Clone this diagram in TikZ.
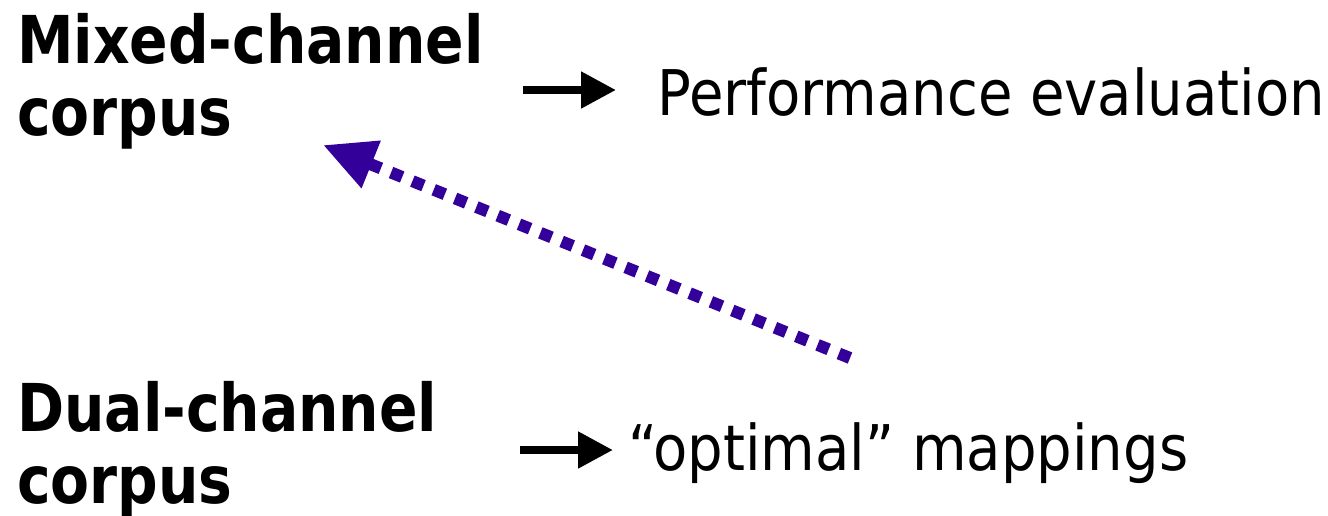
\documentclass[tikz,border=0pt]{standalone}
\usepackage{fontspec}
\setmainfont{DejaVu Sans}[FakeStretch=0.89]
\newfontfamily\boldface{DejaVu Sans Bold}[FakeStretch=0.86]
\usetikzlibrary{arrows.meta,calc}
\definecolor{indigo}{RGB}{51,0,153}
\tikzset{
  bigbold/.style={inner sep=0pt, anchor=base west, align=left,
    font=\boldface\fontsize{66}{72}\selectfont},
  plain/.style={inner sep=0pt, anchor=base west,
    font=\fontsize{63}{72}\selectfont},
  blackarr/.style={line width=8pt, -{Triangle[length=35pt,width=35pt]}},
  purplearr/.style={line width=12pt, indigo, dash pattern=on 12pt off 11pt,
    -{Triangle[length=52pt,width=48pt]}}
}
\begin{document}
\begin{tikzpicture}[x=1pt,y=-1pt]
\useasboundingbox (0,0) rectangle (1328,515);
\node[bigbold] (m) at (17,135) {Mixed-channel\\corpus};
\node[plain] (pe) at (657,115) {Performance evaluation};
\node[bigbold] (d) at (17,503) {Dual-channel\\corpus};
\node[plain] (om) at (628,470) {“optimal” mappings};
\coordinate (a1s) at (523,90);
\coordinate (a1e) at (616,90);
\coordinate (a2s) at (520,450);
\coordinate (a2e) at (613,450);
\coordinate (ds) at (850,358);
\coordinate (de) at (323,145);
\draw[blackarr] (a1s) -- (a1e);
\draw[blackarr] (a2s) -- (a2e);
\draw[purplearr] (ds) -- (de);
\end{tikzpicture}
\end{document}
